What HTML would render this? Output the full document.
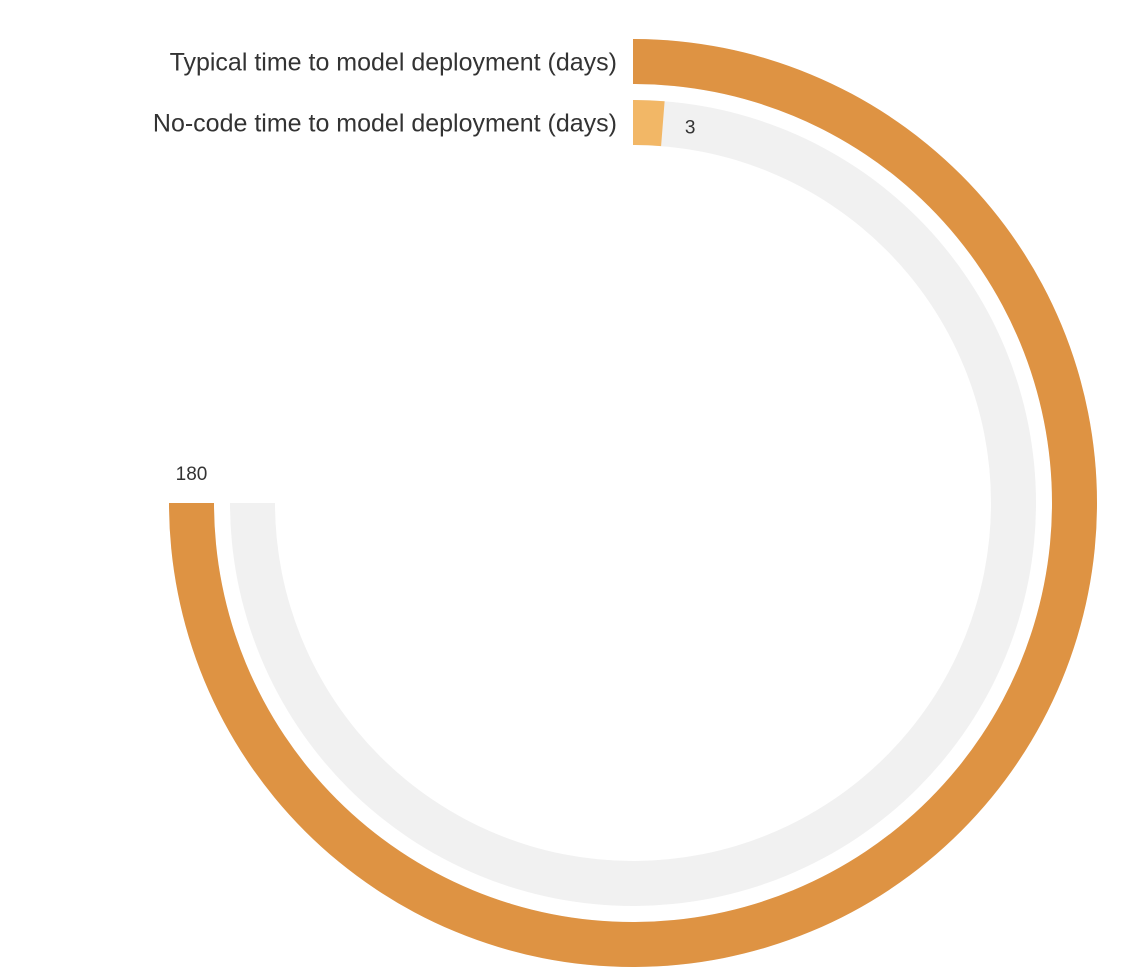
<!DOCTYPE html>
<html><head><meta charset="utf-8"><style>
html,body{margin:0;padding:0;background:#fff;}
svg{display:block;font-family:"Liberation Sans",sans-serif;}
</style></head><body>
<svg width="1130" height="976" viewBox="0 0 1130 976" id="chart"></svg>
<script>
const categories = ["Typical time to model deployment (days)", "No-code time to model deployment (days)"];
const values = [180, 3];
const valueLabels = ["180", "3"];
const maxValue = 180;

const NS = "http://www.w3.org/2000/svg";
const svg = document.getElementById("chart");
const cx = 633, cy = 503;
const rings = [[419, 464], [358, 403]];
const colors = ["#DE9343", "#F2B766"];
const maxAngle = 270;
function ang(v){ return v / maxValue * maxAngle; }
function pt(r, a){ const t = a * Math.PI / 180; return [cx + r * Math.sin(t), cy - r * Math.cos(t)]; }
function arc(r0, r1, a0, a1){
  const large = (a1 - a0) > 180 ? 1 : 0;
  const p1 = pt(r1, a0), p2 = pt(r1, a1), p3 = pt(r0, a1), p4 = pt(r0, a0);
  return `M${p1[0]},${p1[1]} A${r1},${r1} 0 ${large} 1 ${p2[0]},${p2[1]} L${p3[0]},${p3[1]} A${r0},${r0} 0 ${large} 0 ${p4[0]},${p4[1]} Z`;
}
categories.forEach((c, i) => {
  const [r0, r1] = rings[i];
  const track = document.createElementNS(NS, "path");
  track.setAttribute("d", arc(r0, r1, 0, maxAngle));
  track.setAttribute("fill", "#F1F1F1");
  
  
  svg.appendChild(track);
  const bar = document.createElementNS(NS, "path");
  bar.setAttribute("d", arc(r0, r1, 0, ang(values[i])));
  bar.setAttribute("fill", colors[i]);
  
  
  svg.appendChild(bar);
  const lbl = document.createElementNS(NS, "text");
  lbl.setAttribute("x", cx - 16);
  lbl.setAttribute("y", cy - (r0 + r1) / 2 + 9);
  lbl.setAttribute("text-anchor", "end");
  lbl.setAttribute("font-size", "25");
  lbl.setAttribute("fill", "#333");
  lbl.textContent = c;
  
  
  svg.appendChild(lbl);
  const a = ang(values[i]);
  const vr = (r0 + r1) / 2;
  const vt = document.createElementNS(NS, "text");
  let x, y, anchor;
  if (a > 180) {
    const p = pt(vr, a);
    x = p[0]; y = p[1] - 23; anchor = "middle";
  } else {
    const p = pt(vr, a);
    x = p[0] + 22; y = p[1] + 10; anchor = "start";
  }
  vt.setAttribute("x", x);
  vt.setAttribute("y", y);
  vt.setAttribute("text-anchor", anchor);
  vt.setAttribute("font-size", "19");
  vt.setAttribute("fill", "#333");
  vt.textContent = valueLabels[i];
  
  
  svg.appendChild(vt);
});
</script>
</body></html>
